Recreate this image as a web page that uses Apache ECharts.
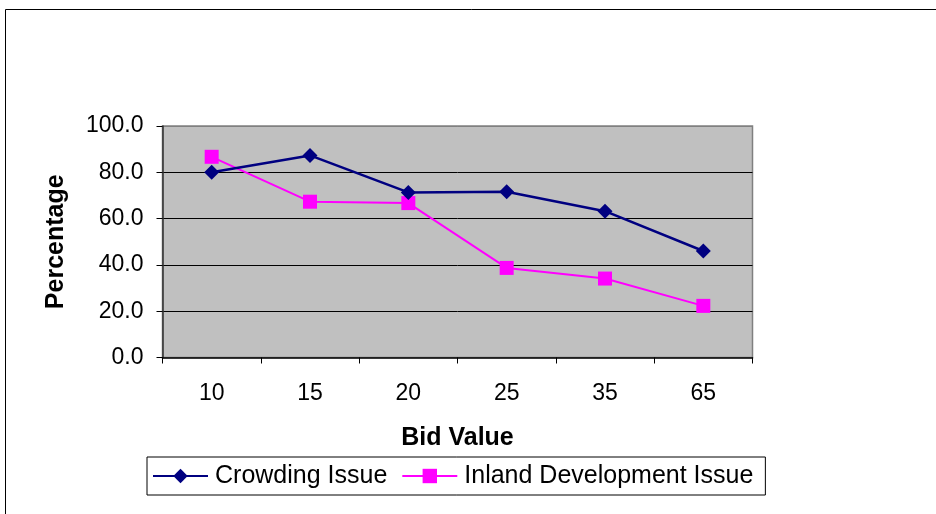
<!DOCTYPE html>
<html>
<head>
<meta charset="utf-8">
<script src="https://cdn.jsdelivr.net/npm/echarts@6/dist/echarts.min.js"></script>
<style>
  html, body { margin: 0; padding: 0; background: #fff; }
  #chart { width: 936px; height: 514px; }
</style>
</head>
<body>
<div id="chart"></div>
<script>
// Bid values on the category axis and share of respondents accepting each bid
const bidValues = ['10', '15', '20', '25', '35', '65'];
const crowdingIssue = [80.0, 87.3, 71.3, 71.6, 63.2, 46.0];
const inlandDevelopmentIssue = [86.7, 67.3, 66.7, 38.7, 34.1, 22.3];
const yTicks = { min: 0, max: 100, interval: 20 };

const FONT = '"Liberation Sans", Arial, sans-serif';

const chart = echarts.init(document.getElementById('chart'), null, { renderer: 'canvas' });

chart.setOption({
  animation: false,
  backgroundColor: '#ffffff',
  textStyle: { fontFamily: FONT },
  graphic: [
    {
      type: 'rect',
      shape: { x: 5.5, y: 9.5, width: 940, height: 520 },
      style: { fill: 'none', stroke: '#000', lineWidth: 1 },
      silent: true,
      z: -10
    }
  ],
  grid: {
    left: 162.5,
    right: 183.5,
    top: 126,
    bottom: 156.5,
    show: true,
    backgroundColor: '#c0c0c0',
    borderColor: '#808080',
    borderWidth: 1.5,
    containLabel: false
  },
  legend: {
    left: 147,
    top: 457,
    orient: 'horizontal',
    padding: [5, 12, 5, 5],
    itemGap: 14,
    itemWidth: 55,
    itemHeight: 18,
    borderColor: '#000',
    borderWidth: 1,
    backgroundColor: '#fff',
    textStyle: { fontFamily: FONT, fontSize: 25, lineHeight: 28, color: '#000', padding: [0, 0, 0, 2] },
    data: ['Crowding Issue', 'Inland Development Issue']
  },
  xAxis: {
    type: 'category',
    data: bidValues,
    boundaryGap: true,
    name: 'Bid Value',
    nameLocation: 'middle',
    nameGap: 68,
    nameTextStyle: { fontFamily: FONT, fontSize: 25, fontWeight: 'bold', color: '#000' },
    axisLine: { show: true, lineStyle: { color: '#000', width: 1.5 } },
    axisTick: { show: true, alignWithLabel: false, length: 6, lineStyle: { color: '#000' } },
    axisLabel: { fontFamily: FONT, fontSize: 23, color: '#000', margin: 25 },
    splitLine: { show: false }
  },
  yAxis: {
    type: 'value',
    min: yTicks.min,
    max: yTicks.max,
    interval: yTicks.interval,
    name: 'Percentage',
    nameLocation: 'middle',
    nameGap: 94,
    nameRotate: 90,
    nameTextStyle: { fontFamily: FONT, fontSize: 25, fontWeight: 'bold', color: '#000' },
    axisLine: { show: true, lineStyle: { color: '#333', width: 1.5 } },
    axisTick: { show: true, length: 6, lineStyle: { color: '#000' } },
    axisLabel: {
      fontFamily: FONT, fontSize: 23, color: '#000', margin: 19,
      formatter: v => v.toFixed(1)
    },
    splitLine: {
      show: true,
      lineStyle: { color: ['transparent', '#000', '#000', '#000', '#000', '#808080'], width: 1 }
    }
  },
  series: [
    {
      name: 'Crowding Issue',
      type: 'line',
      data: crowdingIssue,
      symbol: 'diamond',
      symbolSize: 15,
      itemStyle: { color: '#000080' },
      lineStyle: { color: '#000080', width: 2.5 },
      z: 3
    },
    {
      name: 'Inland Development Issue',
      type: 'line',
      data: inlandDevelopmentIssue,
      symbol: 'rect',
      symbolSize: 14,
      itemStyle: { color: '#ff00ff' },
      lineStyle: { color: '#ff00ff', width: 2 },
      z: 2
    }
  ]
});
</script>
</body>
</html>
